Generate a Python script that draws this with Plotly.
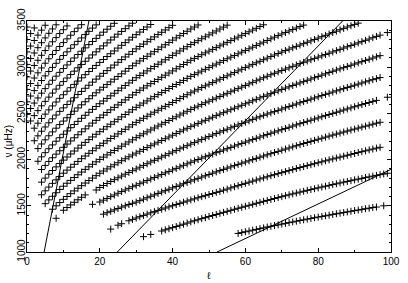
import plotly.graph_objects as go

# radial order ridges p1..p24: first degree l of each ridge, then nu (muHz) for consecutive l (None = mode not present)
ridge_start = [58, 32, 23, 21, 18, 8, 7, 5, 4, 4, 4, 3, 3, 2, 2, 1, 0, 0, 0, 0, 0, 0, 0, 0]

nu_p1 = [1201, 1210, 1219, 1227, 1236, 1244, 1253, 1261, 1270, 1278, 1286, 1294, 1302, 1310, 1318, 1325, 1333,
         1341, 1348, 1356, 1363, 1371, 1378, 1385, 1392, 1399, 1407, 1414, 1420, 1427, 1434, 1441, 1448, 1454,
         1461, 1468, 1474, 1481, 1487, None, 1500]
nu_p2 = [1166, None, 1190, None, None, 1227, 1240, 1252, 1264, 1276, 1289, 1301, 1313, 1326, 1338, 1349, 1361,
         1372, 1384, 1395, 1406, 1418, 1429, 1440, 1451, 1462, 1473, 1484, 1495, 1505, 1516, 1527, 1537, 1548,
         1558, 1568, 1579, 1589, 1599, 1609, 1619, 1629, 1638, 1648, 1657, 1667, 1676, 1685, 1694, 1703, 1712,
         1721, 1730, 1738, 1747, 1756, 1764, 1772, 1781, 1789, 1797, 1805, 1813, 1821, 1829, 1837, 1844, 1852]
nu_p3 = [1248, None, 1290, 1306, None, 1338, 1353, 1368, 1382, 1396, 1410, 1424, 1437, 1450, 1463, 1476, 1489,
         1501, 1514, 1526, 1539, 1551, 1563, 1575, 1587, 1599, 1610, 1622, 1633, 1645, 1656, 1669, 1681, 1694,
         1706, 1718, 1731, 1743, 1755, 1767, 1779, 1791, 1802, 1814, 1826, 1837, 1848, 1859, 1870, 1881, 1892,
         1903, 1914, 1924, 1935, 1945, 1956, 1966, 1976, 1987, 1997, 2007, 2017, 2027, 2037, 2047, 2057, 2066,
         2076, 2086, 2095, 2105, 2114, 2124, 2133]
nu_p4 = [1409, 1425, 1441, 1456, 1471, 1486, 1500, 1514, 1527, 1540, 1556, 1572, 1587, 1603, 1618, 1634, 1649,
         1664, 1679, 1694, 1709, 1724, 1739, 1753, 1768, 1782, 1797, 1811, 1825, 1839, 1853, 1867, 1881, 1894,
         1908, 1921, 1935, 1948, 1961, 1974, 1987, 2000, 2013, 2026, 2039, 2052, 2064, 2077, 2089, 2102, 2114,
         2126, 2138, 2150, 2162, 2174, 2185, 2197, 2208, 2220, 2231, 2243, 2254, 2265, 2276, 2287, 2298, 2309,
         2320, 2330, 2341, 2352, 2362, 2373, 2383, 2394, 2404]
nu_p5 = [1516, None, 1541, 1561, 1580, 1599, 1617, 1636, 1654, 1671, 1689, 1706, 1722, 1739, 1756, 1773, 1790,
         1806, 1823, 1839, 1856, 1872, 1889, 1905, 1921, 1938, 1954, 1971, 1986, 2001, 2016, 2031, 2046, 2060,
         2075, 2089, 2104, 2118, 2132, 2147, 2161, 2175, 2189, 2203, 2217, 2230, 2244, 2258, 2271, 2285, 2298,
         2311, 2324, 2337, 2350, 2363, 2376, 2389, 2401, 2414, 2426, 2439, 2451, 2464, 2476, 2488, 2500, 2512,
         2524, 2536, 2548, 2560, 2572, 2583, 2595, 2607, 2618, 2630, 2641, None, None, 2675]
nu_p6 = [1365, None, 1452, 1481, 1510, 1538, 1565, 1592, 1618, None, None, 1671, 1698, 1720, 1742, 1763, 1783,
         1803, 1822, 1842, 1861, 1880, 1899, 1918, 1937, 1955, 1974, 1992, 2010, 2028, 2046, 2064, 2082, 2099,
         2117, 2134, 2151, 2168, 2185, 2201, 2218, 2234, 2250, 2266, 2282, 2298, 2313, 2329, 2344, 2360, 2375,
         2390, 2405, 2420, 2435, 2450, 2464, 2479, 2493, 2506, 2519, 2533, 2547, 2561, 2574, 2588, 2601, 2615,
         2628, 2641, 2654, 2667, 2680, 2693, 2706, 2718, 2731, 2744, 2756, 2768, 2781, 2793, 2805, 2817, 2829,
         2841, 2853, 2865, 2876, 2888]
nu_p7 = [1463, 1500, 1535, 1570, 1601, 1631, 1661, 1690, 1718, 1746, 1773, 1800, 1826, 1852, 1876, 1899, 1922,
         1944, 1966, 1988, 2009, 2030, 2050, 2070, 2090, 2110, 2130, 2150, 2169, 2188, 2207, 2226, 2245, 2264,
         2283, 2302, 2321, 2339, 2357, 2374, 2391, 2408, 2425, 2442, 2459, 2476, 2492, 2508, 2524, 2540, 2556,
         2572, 2588, 2604, 2620, 2636, 2652, 2668, 2684, 2699, 2714, 2729, 2744, 2759, 2774, 2788, 2802, 2816,
         2830, 2844, 2858, 2872, 2886, 2900, 2914, 2928, 2942, 2956, 2969, 2982, 2995, 3008, 3021, 3034, 3047,
         3060, 3073, 3086, 3099, 3112, 3125]
nu_p8 = [1523, 1564, 1603, 1641, 1677, 1712, 1744, 1775, 1806, 1836, 1865, 1894, 1922, 1949, 1976, 2002, 2027,
         2051, 2075, 2099, 2122, 2145, 2168, 2191, 2214, 2237, 2258, 2279, 2300, 2321, 2342, 2363, 2383, 2403,
         2423, 2443, 2463, 2483, 2503, 2523, 2543, 2561, 2579, 2597, 2615, 2632, 2649, 2666, 2683, 2700, 2717,
         2734, 2751, 2768, 2785, 2802, 2819, 2836, 2853, 2870, 2886, 2902, 2918, 2934, 2949, 2964, 2979, 2994,
         3009, 3024, 3039, 3053, 3067, 3081, 3095, 3109, 3123, 3137, 3151, 3165, 3179, 3193, 3207, 3221, 3235,
         3249, 3263, 3277, 3291, 3305, 3319, 3333, 3347, None, 3375]
nu_p9 = [1619, 1662, 1703, 1743, 1781, 1817, 1853, 1886, 1918, 1949, 1980, 2010, 2039, 2068, 2096, 2124, 2151,
         2177, 2203, 2228, 2253, 2278, 2303, 2328, 2353, 2378, 2403, 2425, 2447, 2469, 2491, 2513, 2534, 2555,
         2576, 2597, 2618, 2639, 2660, 2681, 2702, 2723, 2742, 2761, 2780, 2798, 2816, 2834, 2852, 2870, 2888,
         2906, 2924, 2942, 2960, 2978, 2996, 3013, 3030, 3047, 3064, 3081, 3098, 3115, 3132, 3148, 3164, 3180,
         3195, 3210, 3225, 3240, 3255, 3270, 3285, 3300, 3315, 3330, 3345, 3360, 3375, 3390, 3405, 3420, 3435,
         3449, 3463, 3477]
nu_p10 = [1756, 1800, 1842, 1882, 1921, 1958, 1994, 2028, 2061, 2093, 2125, 2156, 2186, 2216, 2245, 2274, 2302,
          2329, 2356, 2383, 2410, 2436, 2462, 2488, 2514, 2540, 2566, 2589, 2612, 2635, 2658, 2681, 2703, 2725,
          2747, 2769, 2791, 2813, 2835, 2857, 2879, 2901, 2920, 2939, 2958, 2977, 2996, 3015, 3034, 3053, 3072,
          3091, 3109, 3127, 3145, 3163, 3181, 3199, 3217, 3235, 3253, 3271, 3289, 3307, 3325, 3342, 3359, 3376,
          3392, 3408, 3424, 3440, 3456]
nu_p11 = [1893, 1937, 1980, 2020, 2059, 2096, 2133, 2168, 2202, 2236, 2269, 2301, 2333, 2364, 2395, 2425, 2454,
          2482, 2510, 2538, 2565, 2592, 2619, 2646, 2673, 2700, 2727, 2751, 2775, 2799, 2822, 2845, 2868, 2891,
          2914, 2937, 2960, 2983, 3006, 3029, 3052, 3075, 3095, 3115, 3135, 3155, 3174, 3193, 3212, 3231, 3250,
          3269, 3288, 3307, 3326, 3345, 3364, 3383, 3402, 3421, 3440, 3459]
nu_p12 = [1982, 2030, 2075, 2118, 2159, 2199, 2237, 2274, 2310, 2345, 2380, 2414, 2447, 2480, 2512, 2544, 2575,
          2605, 2634, 2662, 2690, 2718, 2746, 2774, 2802, 2830, 2858, 2886, 2911, 2936, 2960, 2984, 3008, 3032,
          3056, 3080, 3104, 3128, 3152, 3176, 3199, 3222, 3245, 3266, 3287, 3308, 3329, 3350, 3371, 3392, 3413,
          3434, 3455]
nu_p13 = [2119, 2169, 2214, 2258, 2300, 2340, 2379, 2417, 2453, 2489, 2524, 2559, 2593, 2626, 2659, 2691, 2723,
          2754, 2783, 2812, 2841, 2870, 2899, 2928, 2957, 2986, 3015, 3043, 3068, 3093, 3118, 3143, 3168, 3193,
          3218, 3243, 3268, 3293, 3317, 3341, 3365, 3389, 3413, 3435, 3457]
nu_p14 = [2204, 2257, 2307, 2353, 2398, 2441, 2482, 2522, 2560, 2597, 2633, 2669, 2704, 2738, 2772, 2805, 2838,
          2871, 2903, 2933, 2963, 2993, 3023, 3053, 3082, 3111, 3140, 3169, 3198, 3224, 3250, 3276, 3302, 3328,
          3353, 3378, 3403, 3428, 3453]
nu_p15 = [2340, 2394, 2445, 2492, 2538, 2581, 2623, 2663, 2702, 2740, 2778, 2814, 2850, 2885, 2919, 2953, 2987,
          3019, 3052, 3083, 3115, 3146, 3176, 3207, 3237, 3266, 3295, 3324, 3352, 3380, 3408, 3435, 3462]
nu_p16 = [2418, 2476, 2530, 2582, 2630, 2676, 2720, 2763, 2804, 2844, 2883, 2920, 2957, 2994, 3029, 3064, 3099,
          3133, 3166, 3199, 3231, 3263, 3295, 3326, 3357, 3387, 3417, 3447, 3476]
nu_p17 = [2490, 2553, 2612, 2667, 2719, 2768, 2815, 2859, 2903, 2944, 2985, 3024, 3063, 3100, 3137, 3173, 3209,
          3244, 3278, 3312, 3346, 3379, 3411, 3443, 3475]
nu_p18 = [2625, 2688, 2747, 2803, 2856, 2906, 2953, 2998, 3042, 3085, 3126, 3166, 3205, 3243, 3280, 3317, 3353,
          3388, 3423, 3458]
nu_p19 = [2760, 2823, 2883, 2939, 2992, 3043, 3091, 3137, 3181, 3224, 3266, 3307, 3346, 3385, 3423, 3460]
nu_p20 = [2895, 2958, 3019, 3075, 3129, 3180, 3229, 3275, 3320, 3364, 3406, 3447]
nu_p21 = [3030, 3094, 3154, 3211, 3265, 3317, 3367, 3414, 3459]
nu_p22 = [3165, 3229, 3289, 3347, 3401, 3454]
nu_p23 = [3300, 3364, 3425]
nu_p24 = [3435]

ridges = [nu_p1, nu_p2, nu_p3, nu_p4, nu_p5, nu_p6, nu_p7, nu_p8, nu_p9, nu_p10, nu_p11, nu_p12,
          nu_p13, nu_p14, nu_p15, nu_p16, nu_p17, nu_p18, nu_p19, nu_p20, nu_p21, nu_p22, nu_p23, nu_p24]

# straight reference lines (end points in l, nu)
line_l = [[4.7, 17.0], [24.8, 86.7], [52.2, 100.0]]
line_nu = [[1000, 3500], [1000, 3500], [1000, 1894]]

x_title = "ℓ"
y_title = "ν (μHz)"

fig = go.Figure()
for l0, vals in zip(ridge_start, ridges):
    fig.add_trace(go.Scatter(x=list(range(l0, l0 + len(vals))), y=vals, mode="markers",
                             marker=dict(symbol="cross-thin", size=5, color="black",
                                         line=dict(width=1, color="black")),
                             showlegend=False, hoverinfo="skip"))
for ls, ns in zip(line_l, line_nu):
    fig.add_trace(go.Scatter(x=ls, y=ns, mode="lines",
                             line=dict(color="black", width=1), showlegend=False))

font = dict(family="Liberation Sans", size=10, color="black")
fig.update_layout(
    width=408, height=283, margin=dict(l=27, r=8, t=10, b=31),
    paper_bgcolor="white", plot_bgcolor="white", font=font,
    xaxis=dict(range=[0, 100], tickvals=[0, 20, 40, 60, 80, 100], ticks="inside",
               ticklen=4, tickwidth=1, tickcolor="black", showline=True, linecolor="black",
               linewidth=1, mirror="ticks", showgrid=False, zeroline=False,
               minor=dict(tickvals=[10, 30, 50, 70, 90], ticks="inside", ticklen=2, tickcolor="black")),
    yaxis=dict(range=[1000, 3500], tickvals=[1000, 1500, 2000, 2500, 3000, 3500], ticks="inside",
               ticklen=4, tickwidth=1, tickcolor="black", showline=True, linecolor="black",
               linewidth=1, mirror="ticks", showgrid=False, zeroline=False, tickangle=-90,
               ticklabeloverflow="allow", ticklabelstandoff=-3,
               minor=dict(dtick=100, ticks="inside", ticklen=2, tickcolor="black")),
    annotations=[
        dict(text=x_title, xref="paper", yref="paper", x=0.5, y=-0.103, xanchor="center",
             yanchor="middle", showarrow=False, font=font),
        dict(text=y_title, xref="paper", yref="paper", x=-0.052, y=0.479, xanchor="center",
             yanchor="middle", textangle=-90, showarrow=False, font=font),
    ],
)
fig.write_html("out.html")
